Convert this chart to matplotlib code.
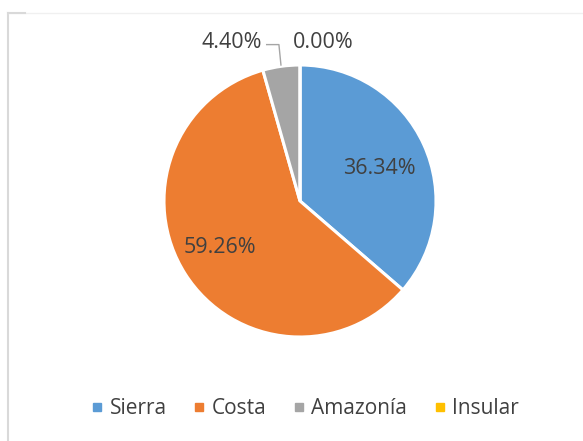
import matplotlib.pyplot as plt
from matplotlib.lines import Line2D

# data
regions = ['Sierra', 'Costa', 'Amazonía', 'Insular']
shares = [36.34, 59.26, 4.40, 0.00]
labels = ['36.34%', '59.26%', '4.40%', '0.00%']
colors = ['#5B9BD5', '#ED7D31', '#A5A5A5', '#FFC000']

plt.rcParams['font.family'] = ['Open Sans', 'DejaVu Sans']
txt = '#404040'

fig = plt.figure(figsize=(5.83, 4.41), dpi=100)
W, H = 583, 441
# axes box in pixels (pie center ~ (300,201), radius ~136)
ax = fig.add_axes([164 / W, 1 - 337 / H, 272 / W, 272 / H])
wedges, _ = ax.pie(shares, colors=colors, startangle=90, counterclock=False,
                   radius=1, wedgeprops=dict(edgecolor='white', linewidth=2.2))
ax.set_xlim(-1, 1)
ax.set_ylim(-1, 1)
ax.set_aspect('equal')
ax.axis('off')

# data labels (positions in pie units)
pos = [(0.585, 0.24), (-0.59, -0.34), (-0.505, 1.165), (0.17, 1.165)]
for lab, (x, y) in zip(labels, pos):
    ax.text(x, y, lab, ha='center', va='center', fontsize=15.5, color=txt, clip_on=False)

# leader line for 4.40%
ax.plot([-0.245, -0.155, -0.14], [1.15, 1.15, 1.0], color='#A5A5A5', lw=1, clip_on=False)

# legend
handles = [Line2D([], [], marker='s', ls='none', color=c, markersize=6) for c in colors]
fig.legend(handles, regions, loc='center', bbox_to_anchor=(304 / W, 1 - 409 / H),
           ncol=4, frameon=False, fontsize=15, labelcolor=txt,
           handletextpad=0.2, columnspacing=1.15, handlelength=0.8)

# chart border (partly cropped)
fig.add_artist(Line2D([7.5 / W, 7.5 / W], [0, 1 - 12.5 / H], color='#D9D9D9', lw=1.5))
fig.add_artist(Line2D([7.5 / W, 1], [1 - 12.5 / H, 1 - 12.5 / H], color='#F0F0F0', lw=1))
fig.add_artist(Line2D([7.5 / W, 25 / W], [1 - 12.5 / H, 1 - 12.5 / H], color='#D9D9D9', lw=1.5))

fig.savefig('out.png', dpi=100)
